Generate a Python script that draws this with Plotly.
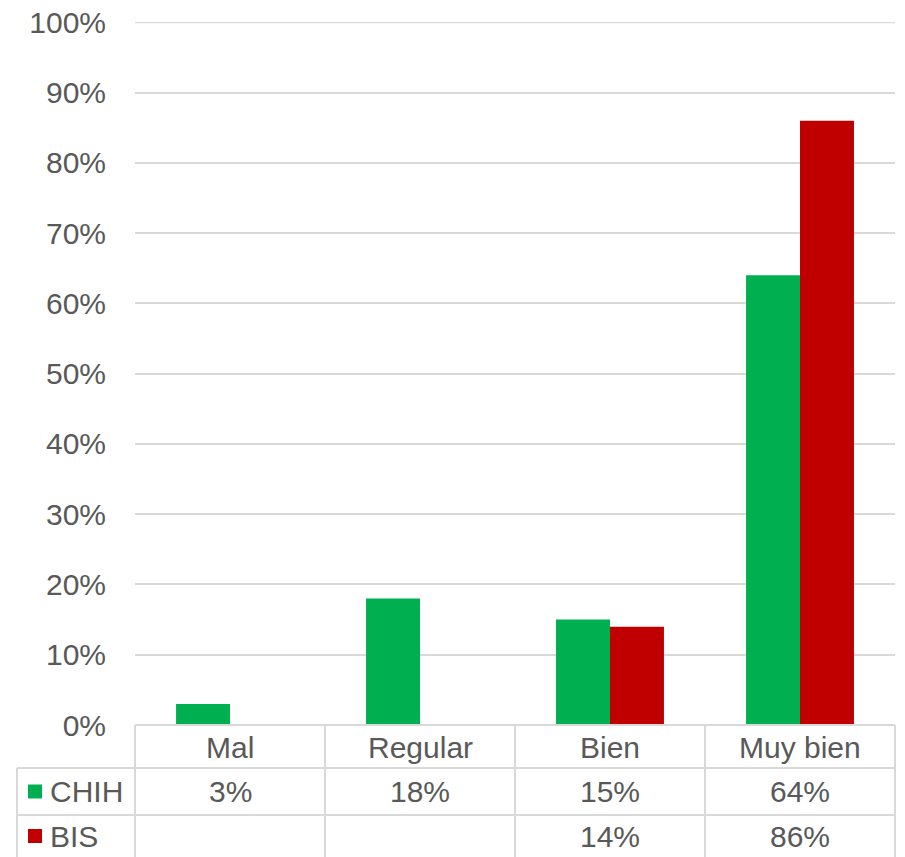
import plotly.graph_objects as go

categories = ["Mal", "Regular", "Bien", "Muy bien"]
series_names = ["CHIH", "BIS"]
chih = [3, 18, 15, 64]
bis = [None, None, 14, 86]
colors = ["#00B050", "#C00000"]
y_ticks = list(range(0, 101, 10))
y_ticktext = [f"{v}%" for v in y_ticks]

OFF = 8  # page body margin in the browser
W, H = 905 - OFF, 857 - OFF
L, R, T, B = 135 - OFF, 895 - OFF, 22 - OFF, 725 - OFF  # plot area in pixels
PW, PH = R - L, B - T

def px(x):
    return (x - OFF - L) / PW

def py(y):
    return (B - (y - OFF)) / PH

fig = go.Figure()
for name, vals, col in zip(series_names, [chih, bis], colors):
    fig.add_trace(go.Bar(x=categories, y=vals, name=name, marker=dict(color=col, line=dict(width=0)),
                         showlegend=False))

grid = "#D9D9D9"
font_fam = "Liberation Sans, Arial, sans-serif"
txt_col = "#595959"
fs = 30

shapes = []
def line(x0, y0, x1, y1, layer="above"):
    shapes.append(dict(type="line", xref="paper", yref="paper", x0=px(x0), y0=py(y0), x1=px(x1), y1=py(y1),
                       line=dict(color=grid, width=2), layer=layer))

# reference (screen) pixel positions of the data table grid
tL, tR, tB = 135, 895, 725
row1, row2, bottom = 768, 815, 860
left = 17
# top gridline (100%) which plotly omits at the range edge
shapes.append(dict(type="line", xref="paper", yref="y", x0=0, x1=1, y0=y_ticks[-1], y1=y_ticks[-1],
                   line=dict(color=grid, width=2), layer="below"))
col_lines = [tL + i * (tR - tL) / 4 for i in range(5)]
line(tL, tB, tR, tB)
line(left, row1, tR, row1)
line(left, row2, tR, row2)
line(left, row1, left, bottom)
for cx in col_lines:
    line(cx, tB, cx, bottom)

annotations = []
centers = [tL + (i + 0.5) * (tR - tL) / 4 for i in range(4)]
def txt(x, y, s, xa="center"):
    annotations.append(dict(x=px(x), y=py(y), xref="paper", yref="paper", text=s, xanchor=xa, yanchor="middle",
                            showarrow=False, font=dict(family=font_fam, size=fs, color=txt_col)))

for c, xc in zip(categories, centers):
    txt(xc, (tB + row1) / 2 + 1, c)
rows_y = [(row1 + row2) / 2, (row2 + 857) / 2]
for name, vals, col, ry in zip(series_names, [chih, bis], colors, rows_y):
    shapes.append(dict(type="rect", xref="paper", yref="paper", x0=px(28), x1=px(42), y0=py(ry - 7), y1=py(ry + 7),
                       fillcolor=col, line=dict(width=0)))
    txt(48, ry, name, "left")
    for v, xc in zip(vals, centers):
        if v is not None:
            txt(xc, ry, f"{v}%")

fig.update_layout(
    width=W, height=H,
    margin=dict(l=L, r=W - R, t=T, b=H - B, pad=0),
    paper_bgcolor="white", plot_bgcolor="white",
    barmode="group", bargap=0.432, bargroupgap=0,
    xaxis=dict(range=[-0.5, 3.5], showticklabels=False, showgrid=False, zeroline=False, showline=False, ticks="",
               automargin=False),
    yaxis=dict(range=[0, 100.05], tickvals=y_ticks, ticktext=y_ticktext, showgrid=True, gridcolor=grid, gridwidth=2,
               zeroline=False, showline=False, ticks="outside", ticklen=22, tickcolor="rgba(0,0,0,0)",
               ticklabeloverflow="allow", automargin=False,
               tickfont=dict(family=font_fam, size=fs, color=txt_col)),
    shapes=shapes, annotations=annotations,
)
fig.write_html("out.html")
